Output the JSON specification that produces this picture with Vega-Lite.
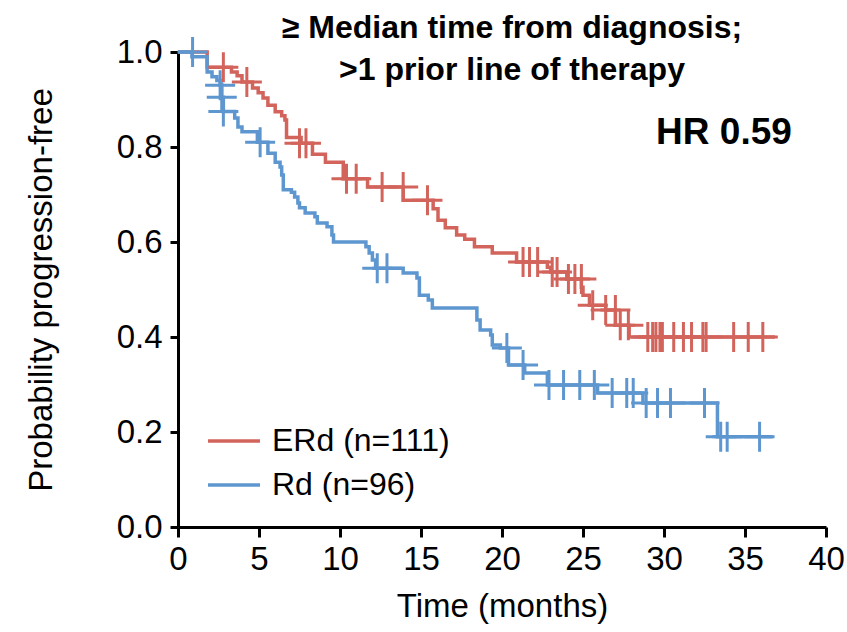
{
  "$schema": "https://vega.github.io/schema/vega-lite/v6.json",
  "autosize": {"type": "none"},
  "width": 648,
  "height": 475,
  "padding": {"left": 178, "top": 52, "right": 21, "bottom": 105},
  "background": "white",
  "config": {
    "view": {"stroke": null},
    "font": "Liberation Sans",
    "axis": {
      "domainColor": "black", "domainWidth": 3, "tickColor": "black", "tickWidth": 3,
      "labelFont": "Liberation Sans", "titleFont": "Liberation Sans",
      "labelFontSize": 33, "titleFontSize": 33, "labelColor": "black", "titleColor": "black",
      "titleFontWeight": "normal", "grid": false
    }
  },
  "title": {
    "text": ["≥ Median time from diagnosis;", ">1 prior line of therapy"],
    "fontSize": 32, "fontWeight": "bold", "font": "Liberation Sans", "color": "black",
    "anchor": "middle", "frame": "group", "lineHeight": 42, "dx": 10, "dy": 56, "offset": 0
  },
  "datasets": {
    "curve": [
      {"arm": "ERd (n=111)", "t": 0, "s": 1.0},
      {"arm": "ERd (n=111)", "t": 1.8, "s": 0.968},
      {"arm": "ERd (n=111)", "t": 3.3, "s": 0.958},
      {"arm": "ERd (n=111)", "t": 3.65, "s": 0.95},
      {"arm": "ERd (n=111)", "t": 3.95, "s": 0.937},
      {"arm": "ERd (n=111)", "t": 4.6, "s": 0.924},
      {"arm": "ERd (n=111)", "t": 4.95, "s": 0.914},
      {"arm": "ERd (n=111)", "t": 5.25, "s": 0.903},
      {"arm": "ERd (n=111)", "t": 5.55, "s": 0.888},
      {"arm": "ERd (n=111)", "t": 6.0, "s": 0.874},
      {"arm": "ERd (n=111)", "t": 6.4, "s": 0.866},
      {"arm": "ERd (n=111)", "t": 6.6, "s": 0.857},
      {"arm": "ERd (n=111)", "t": 6.7, "s": 0.82},
      {"arm": "ERd (n=111)", "t": 7.6, "s": 0.808},
      {"arm": "ERd (n=111)", "t": 8.3, "s": 0.785},
      {"arm": "ERd (n=111)", "t": 9.1, "s": 0.768},
      {"arm": "ERd (n=111)", "t": 10.2, "s": 0.733},
      {"arm": "ERd (n=111)", "t": 11.7, "s": 0.716},
      {"arm": "ERd (n=111)", "t": 13.9, "s": 0.688},
      {"arm": "ERd (n=111)", "t": 15.75, "s": 0.67},
      {"arm": "ERd (n=111)", "t": 16.05, "s": 0.646},
      {"arm": "ERd (n=111)", "t": 16.5, "s": 0.63},
      {"arm": "ERd (n=111)", "t": 17.2, "s": 0.615},
      {"arm": "ERd (n=111)", "t": 17.7, "s": 0.606},
      {"arm": "ERd (n=111)", "t": 18.3, "s": 0.59},
      {"arm": "ERd (n=111)", "t": 19.4, "s": 0.577},
      {"arm": "ERd (n=111)", "t": 20.9, "s": 0.558},
      {"arm": "ERd (n=111)", "t": 22.8, "s": 0.547},
      {"arm": "ERd (n=111)", "t": 23.0, "s": 0.537},
      {"arm": "ERd (n=111)", "t": 24.0, "s": 0.522},
      {"arm": "ERd (n=111)", "t": 24.9, "s": 0.505},
      {"arm": "ERd (n=111)", "t": 25.0, "s": 0.488},
      {"arm": "ERd (n=111)", "t": 25.4, "s": 0.467},
      {"arm": "ERd (n=111)", "t": 26.4, "s": 0.457},
      {"arm": "ERd (n=111)", "t": 27.0, "s": 0.425},
      {"arm": "ERd (n=111)", "t": 27.85, "s": 0.4},
      {"arm": "ERd (n=111)", "t": 36.85, "s": 0.4},
      {"arm": "Rd (n=96)", "t": 0, "s": 1.0},
      {"arm": "Rd (n=96)", "t": 0.86, "s": 0.99},
      {"arm": "Rd (n=96)", "t": 1.8, "s": 0.958},
      {"arm": "Rd (n=96)", "t": 2.1, "s": 0.948},
      {"arm": "Rd (n=96)", "t": 2.4, "s": 0.94},
      {"arm": "Rd (n=96)", "t": 2.6, "s": 0.93},
      {"arm": "Rd (n=96)", "t": 2.7, "s": 0.905},
      {"arm": "Rd (n=96)", "t": 2.8, "s": 0.875},
      {"arm": "Rd (n=96)", "t": 3.5, "s": 0.861},
      {"arm": "Rd (n=96)", "t": 3.7, "s": 0.842},
      {"arm": "Rd (n=96)", "t": 3.95, "s": 0.832},
      {"arm": "Rd (n=96)", "t": 4.9, "s": 0.81},
      {"arm": "Rd (n=96)", "t": 5.55, "s": 0.787},
      {"arm": "Rd (n=96)", "t": 6.0, "s": 0.768},
      {"arm": "Rd (n=96)", "t": 6.3, "s": 0.758},
      {"arm": "Rd (n=96)", "t": 6.4, "s": 0.741},
      {"arm": "Rd (n=96)", "t": 6.5, "s": 0.71},
      {"arm": "Rd (n=96)", "t": 7.0, "s": 0.705},
      {"arm": "Rd (n=96)", "t": 7.2, "s": 0.695},
      {"arm": "Rd (n=96)", "t": 7.4, "s": 0.682},
      {"arm": "Rd (n=96)", "t": 7.5, "s": 0.672},
      {"arm": "Rd (n=96)", "t": 7.85, "s": 0.661},
      {"arm": "Rd (n=96)", "t": 8.45, "s": 0.653},
      {"arm": "Rd (n=96)", "t": 8.6, "s": 0.64},
      {"arm": "Rd (n=96)", "t": 9.2, "s": 0.632},
      {"arm": "Rd (n=96)", "t": 9.5, "s": 0.615},
      {"arm": "Rd (n=96)", "t": 9.6, "s": 0.6},
      {"arm": "Rd (n=96)", "t": 11.6, "s": 0.59},
      {"arm": "Rd (n=96)", "t": 11.8, "s": 0.577},
      {"arm": "Rd (n=96)", "t": 12.0, "s": 0.562},
      {"arm": "Rd (n=96)", "t": 12.2, "s": 0.545},
      {"arm": "Rd (n=96)", "t": 13.9, "s": 0.535},
      {"arm": "Rd (n=96)", "t": 14.75, "s": 0.524},
      {"arm": "Rd (n=96)", "t": 14.9, "s": 0.488},
      {"arm": "Rd (n=96)", "t": 15.45, "s": 0.478},
      {"arm": "Rd (n=96)", "t": 15.7, "s": 0.461},
      {"arm": "Rd (n=96)", "t": 18.45, "s": 0.436},
      {"arm": "Rd (n=96)", "t": 18.65, "s": 0.415},
      {"arm": "Rd (n=96)", "t": 19.3, "s": 0.404},
      {"arm": "Rd (n=96)", "t": 19.4, "s": 0.383},
      {"arm": "Rd (n=96)", "t": 19.9, "s": 0.377},
      {"arm": "Rd (n=96)", "t": 20.4, "s": 0.341},
      {"arm": "Rd (n=96)", "t": 21.4, "s": 0.324},
      {"arm": "Rd (n=96)", "t": 22.8, "s": 0.299},
      {"arm": "Rd (n=96)", "t": 25.9, "s": 0.282},
      {"arm": "Rd (n=96)", "t": 28.7, "s": 0.261},
      {"arm": "Rd (n=96)", "t": 33.3, "s": 0.19},
      {"arm": "Rd (n=96)", "t": 36.7, "s": 0.19}
    ],
    "censor": [
      {"arm": "ERd (n=111)", "t": 2.8, "s": 0.968},
      {"arm": "ERd (n=111)", "t": 4.25, "s": 0.937},
      {"arm": "ERd (n=111)", "t": 7.5, "s": 0.808},
      {"arm": "ERd (n=111)", "t": 7.9, "s": 0.808},
      {"arm": "ERd (n=111)", "t": 10.4, "s": 0.733},
      {"arm": "ERd (n=111)", "t": 11.0, "s": 0.733},
      {"arm": "ERd (n=111)", "t": 12.6, "s": 0.716},
      {"arm": "ERd (n=111)", "t": 13.9, "s": 0.716},
      {"arm": "ERd (n=111)", "t": 15.4, "s": 0.688},
      {"arm": "ERd (n=111)", "t": 21.3, "s": 0.558},
      {"arm": "ERd (n=111)", "t": 21.7, "s": 0.558},
      {"arm": "ERd (n=111)", "t": 22.2, "s": 0.558},
      {"arm": "ERd (n=111)", "t": 23.1, "s": 0.537},
      {"arm": "ERd (n=111)", "t": 23.4, "s": 0.537},
      {"arm": "ERd (n=111)", "t": 24.1, "s": 0.522},
      {"arm": "ERd (n=111)", "t": 24.5, "s": 0.522},
      {"arm": "ERd (n=111)", "t": 24.9, "s": 0.522},
      {"arm": "ERd (n=111)", "t": 25.6, "s": 0.467},
      {"arm": "ERd (n=111)", "t": 26.4, "s": 0.457},
      {"arm": "ERd (n=111)", "t": 27.0, "s": 0.457},
      {"arm": "ERd (n=111)", "t": 27.3, "s": 0.425},
      {"arm": "ERd (n=111)", "t": 27.8, "s": 0.425},
      {"arm": "ERd (n=111)", "t": 29.0, "s": 0.4},
      {"arm": "ERd (n=111)", "t": 29.3, "s": 0.4},
      {"arm": "ERd (n=111)", "t": 29.5, "s": 0.4},
      {"arm": "ERd (n=111)", "t": 29.75, "s": 0.4},
      {"arm": "ERd (n=111)", "t": 29.9, "s": 0.4},
      {"arm": "ERd (n=111)", "t": 30.6, "s": 0.4},
      {"arm": "ERd (n=111)", "t": 31.2, "s": 0.4},
      {"arm": "ERd (n=111)", "t": 31.7, "s": 0.4},
      {"arm": "ERd (n=111)", "t": 32.4, "s": 0.4},
      {"arm": "ERd (n=111)", "t": 32.6, "s": 0.4},
      {"arm": "ERd (n=111)", "t": 34.3, "s": 0.4},
      {"arm": "ERd (n=111)", "t": 35.2, "s": 0.4},
      {"arm": "ERd (n=111)", "t": 36.1, "s": 0.4},
      {"arm": "Rd (n=96)", "t": 0.9, "s": 1.0},
      {"arm": "Rd (n=96)", "t": 2.6, "s": 0.93},
      {"arm": "Rd (n=96)", "t": 2.7, "s": 0.905},
      {"arm": "Rd (n=96)", "t": 2.8, "s": 0.875},
      {"arm": "Rd (n=96)", "t": 5.07, "s": 0.81},
      {"arm": "Rd (n=96)", "t": 12.3, "s": 0.545},
      {"arm": "Rd (n=96)", "t": 12.9, "s": 0.545},
      {"arm": "Rd (n=96)", "t": 20.3, "s": 0.377},
      {"arm": "Rd (n=96)", "t": 21.3, "s": 0.341},
      {"arm": "Rd (n=96)", "t": 22.9, "s": 0.299},
      {"arm": "Rd (n=96)", "t": 23.8, "s": 0.299},
      {"arm": "Rd (n=96)", "t": 24.8, "s": 0.299},
      {"arm": "Rd (n=96)", "t": 25.7, "s": 0.299},
      {"arm": "Rd (n=96)", "t": 26.8, "s": 0.282},
      {"arm": "Rd (n=96)", "t": 27.7, "s": 0.282},
      {"arm": "Rd (n=96)", "t": 28.1, "s": 0.282},
      {"arm": "Rd (n=96)", "t": 28.9, "s": 0.261},
      {"arm": "Rd (n=96)", "t": 29.6, "s": 0.261},
      {"arm": "Rd (n=96)", "t": 30.4, "s": 0.261},
      {"arm": "Rd (n=96)", "t": 32.5, "s": 0.261},
      {"arm": "Rd (n=96)", "t": 33.5, "s": 0.19},
      {"arm": "Rd (n=96)", "t": 33.9, "s": 0.19},
      {"arm": "Rd (n=96)", "t": 35.9, "s": 0.19}
    ],
    "hr": [{"label": "HR 0.59", "t": 33.7, "s": 0.829}]
  },
  "layer": [
    {
      "data": {"name": "curve"},
      "mark": {"type": "line", "interpolate": "step-after", "strokeWidth": 3.5},
      "encoding": {
        "x": {"field": "t", "type": "quantitative",
              "scale": {"domain": [0, 40], "nice": false},
              "axis": {"values": [0,5,10,15,20,25,30,35,40], "tickSize": 10, "labelPadding": 6, "title": "Time (months)", "titlePadding": 14, "labelFlush": false}},
        "y": {"field": "s", "type": "quantitative",
              "scale": {"domain": [0, 1], "nice": false},
              "axis": {"values": [0,0.2,0.4,0.6,0.8,1.0], "format": ".1f", "tickSize": 8, "labelPadding": 8, "title": "Probability progression-free", "titlePadding": 58, "labelFlush": false}},
        "color": {"field": "arm", "type": "nominal",
                  "scale": {"domain": ["ERd (n=111)", "Rd (n=96)"], "range": ["#D2645C", "#5E97CF"]},
                  "legend": {"orient": "none", "legendX": 28, "legendY": 361, "title": null,
                             "symbolType": "stroke", "symbolSize": 2700, "symbolStrokeWidth": 3.5,
                             "labelFontSize": 32, "labelFont": "Liberation Sans", "labelColor": "black",
                             "labelLimit": 0, "rowPadding": 0, "labelOffset": 10}}
      }
    },
    {
      "data": {"name": "censor"},
      "mark": {"type": "point", "shape": "M-1,0H1M0,-1V1", "filled": false, "strokeWidth": 3, "size": 900, "opacity": 1},
      "encoding": {
        "x": {"field": "t", "type": "quantitative"},
        "y": {"field": "s", "type": "quantitative"},
        "color": {"field": "arm", "type": "nominal", "legend": null}
      }
    },
    {
      "data": {"name": "hr"},
      "mark": {"type": "text", "fontSize": 37, "fontWeight": "bold", "font": "Liberation Sans", "color": "black", "align": "center", "baseline": "middle"},
      "encoding": {
        "x": {"field": "t", "type": "quantitative"},
        "y": {"field": "s", "type": "quantitative"},
        "text": {"field": "label"}
      }
    }
  ]
}
